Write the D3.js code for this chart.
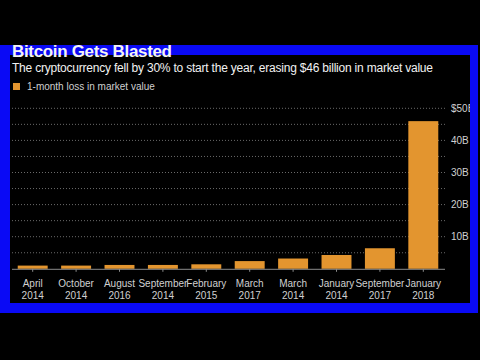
<!DOCTYPE html>
<html lang="en">
  <head>
  <meta charset="utf-8"/>
    <script type="text/javascript" src="https://cdnjs.cloudflare.com/ajax/libs/d3/7.8.5/d3.min.js"></script>
    <style>
      body { margin: 0; background: #000; }
      svg { display: block; }
    </style>
  </head>
  <body>
<svg class="fillmeup"></svg>
    <script type="text/javascript">

// months and years of each bar, in the order shown
var months = ["April", "October", "August", "September", "February", "March", "March", "January", "September", "January"];
var years = ["2014", "2014", "2016", "2014", "2015", "2017", "2014", "2014", "2017", "2018"];
// 1-month loss in market value, billions of dollars
var losses = [1.0, 1.0, 1.2, 1.2, 1.4, 2.4, 3.2, 4.3, 6.4, 46];
// labels on the right axis
var tickValues = [10, 20, 30, 40, 50];
var tickLabels = ["10B", "20B", "30B", "40B", "$50B"];
var gridValues = [5, 10, 15, 20, 25, 30, 35, 40, 45, 50];

var width = 480, height = 360;
var orange = "#e3952f";
var font = "Liberation Sans, Arial, sans-serif";

var svg = d3.select(".fillmeup")
  .attr("width", width)
  .attr("height", height)
  .style("font-family", font);

svg.append("rect").attr("width", width).attr("height", height).attr("fill", "#000");

// source line, only the tops of the letters peek out under the frame
svg.append("clipPath").attr("id", "srcclip")
  .append("rect").attr("x", 0).attr("y", 313).attr("width", width).attr("height", 4);
var src = svg.append("g").attr("clip-path", "url(#srcclip)")
  .style("fill", "#ddd").style("font-size", "11px");
src.append("text").attr("x", 10).attr("y", 325).text("Source: Bloomberg, CoinMarketCap");
src.append("text").attr("x", 412).attr("y", 325).text("Bloomberg");

// blue frame and the black panel inside
svg.append("rect").attr("x", 0).attr("y", 45).attr("width", 478).attr("height", 268).attr("fill", "#0a0af5");
svg.append("rect").attr("x", 10).attr("y", 55).attr("width", 460).attr("height", 248).attr("fill", "#000");

svg.append("clipPath").attr("id", "panel")
  .append("rect").attr("x", 10).attr("y", 55).attr("width", 460).attr("height", 248);
var chart = svg.append("g").attr("clip-path", "url(#panel)");

chart.append("text")
  .attr("x", 12).attr("y", 72)
  .attr("fill", "#f2f2f2")
  .style("font-size", "12px")
  .attr("textLength", 421)
  .text("The cryptocurrency fell by 30% to start the year, erasing $46 billion in market value");

// legend
chart.append("rect").attr("x", 13).attr("y", 83).attr("width", 7).attr("height", 7).attr("fill", orange);
chart.append("text")
  .attr("x", 27).attr("y", 90)
  .attr("fill", "#cfcfcf")
  .style("font-size", "10px")
  .text("1-month loss in market value");

var x = d3.scaleBand()
  .domain(d3.range(losses.length))
  .range([11, 445])
  .paddingInner(0.31)
  .paddingOuter(0.155);

var y = d3.scaleLinear()
  .domain([0, 50])
  .range([268.8, 108.3]);

// dotted gridlines every 5B
chart.append("g").selectAll("line")
  .data(gridValues)
  .enter()
  .append("line")
  .attr("x1", 12).attr("x2", 445)
  .attr("y1", function(d) { return y(d); })
  .attr("y2", function(d) { return y(d); })
  .attr("stroke", "#6a6a6a")
  .attr("stroke-width", 1)
  .attr("stroke-dasharray", "1,2");

var bars = chart.append("g").selectAll("rect")
  .data(losses)
  .enter()
  .append("rect")
  .attr("x", function(d, i) { return x(i); })
  .attr("width", x.bandwidth())
  .attr("y", function(d) { return y(d); })
  .attr("height", function(d) { return y(0) - y(d); })
  .attr("fill", orange);

// right axis labels
var yAxis = chart.append("g")
  .attr("transform", "translate(445,0)")
  .call(d3.axisRight(y).tickValues(tickValues).tickSize(0).tickPadding(6)
    .tickFormat(function(d, i) { return tickLabels[i]; }));
yAxis.select(".domain").remove();
yAxis.selectAll("text").attr("fill", "#d0d0d0").style("font-size", "10px").style("font-family", font);

// bottom axis, labels added by hand as two lines
var xAxis = chart.append("g")
  .attr("transform", "translate(0," + y(0) + ")")
  .call(d3.axisBottom(x).tickSize(3).tickSizeOuter(0).tickFormat(""));
xAxis.select(".domain").attr("stroke", "#8a8a8a").attr("d", "M12,0.5H445");
xAxis.selectAll(".tick line").attr("stroke", "#8a8a8a");
xAxis.selectAll(".tick text").remove();
var ticks = xAxis.selectAll(".tick");
ticks.append("text")
  .attr("fill", "#d0d0d0")
  .style("font-size", "10px")
  .style("font-family", font)
  .attr("text-anchor", "middle")
  .attr("y", 18)
  .text(function(d) { return months[d]; });
ticks.append("text")
  .attr("fill", "#d0d0d0")
  .style("font-size", "10px")
  .style("font-family", font)
  .attr("text-anchor", "middle")
  .attr("y", 30)
  .text(function(d) { return years[d]; });

// headline sits over the frame, half hidden
svg.append("text")
  .attr("x", 12).attr("y", 57)
  .attr("fill", "#f4f4f4")
  .style("font-size", "17px")
  .style("font-weight", "bold")
  .attr("textLength", 160)
  .text("Bitcoin Gets Blasted");

    </script>
  </body>
</html>
